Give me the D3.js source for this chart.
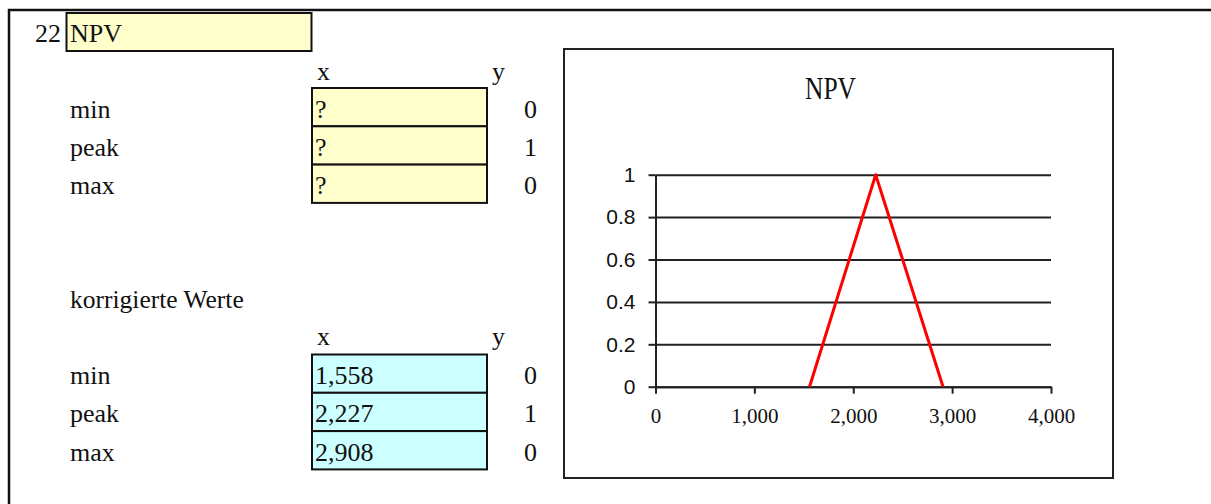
<!DOCTYPE html>
<html>
<head>
<meta charset="utf-8">
<script src="https://cdn.jsdelivr.net/npm/d3@7"></script>
<style>
  html, body { margin: 0; padding: 0; background: #fff; }
  svg { display: block; }
</style>
</head>
<body>
<div id="chart"></div>
<script>
// ---------- data ----------
const sectionNumber = "22";
const sectionName = "NPV";
const rowLabels = ["min", "peak", "max"];
const inputX = ["?", "?", "?"];
const correctedX = [1558, 2227, 2908];
const yValues = [0, 1, 0];
const correctedTitle = "korrigierte Werte";
const chartTitle = "NPV";
const xTicks = [0, 1000, 2000, 3000, 4000];
const yTicks = [0, 0.2, 0.4, 0.6, 0.8, 1];

// ---------- setup ----------
const W = 1211, H = 504;
const serif = "'Liberation Serif', 'Times New Roman', serif";
const sans = "'Liberation Sans', Arial, sans-serif";
const ink = "#111";

const svg = d3.select("#chart").append("svg")
  .attr("width", W).attr("height", H);

// outer frame (top + left)
svg.append("path")
  .attr("d", `M9,504 L9,10 L1211,10`)
  .attr("fill", "none").attr("stroke", ink).attr("stroke-width", 2.5);

// section header
svg.append("text").text(sectionNumber)
  .attr("x", 61).attr("y", 41.5).attr("text-anchor", "end")
  .attr("font-family", serif).attr("font-size", 26).attr("fill", ink);
svg.append("rect")
  .attr("x", 66.5).attr("y", 13).attr("width", 245).attr("height", 38)
  .attr("fill", "#FFFFCC").attr("stroke", ink).attr("stroke-width", 2);
svg.append("text").text(sectionName)
  .attr("x", 70).attr("y", 41.5)
  .attr("font-family", serif).attr("font-size", 26).attr("fill", ink);

// table helper
function drawTable(top, headerBaseline, values, fill, fmt) {
  const rowH = 38.3;
  const g = svg.append("g");
  g.append("text").text("x").attr("x", 317).attr("y", headerBaseline)
    .attr("font-family", serif).attr("font-size", 26).attr("fill", ink);
  g.append("text").text("y").attr("x", 492).attr("y", headerBaseline)
    .attr("font-family", serif).attr("font-size", 26).attr("fill", ink);
  rowLabels.forEach((lab, i) => {
    const y0 = top + i * rowH;
    const base = y0 + 29.5;
    g.append("text").text(lab).attr("x", 70).attr("y", base)
      .attr("font-family", serif).attr("font-size", 26).attr("fill", ink);
    g.append("rect").attr("x", 312).attr("y", y0).attr("width", 175).attr("height", rowH)
      .attr("fill", fill).attr("stroke", ink).attr("stroke-width", 2);
    g.append("text").text(fmt(values[i])).attr("x", 315).attr("y", base)
      .attr("font-family", serif).attr("font-size", 26).attr("fill", ink);
    g.append("text").text(yValues[i]).attr("x", 537).attr("y", base)
      .attr("text-anchor", "end")
      .attr("font-family", serif).attr("font-size", 26).attr("fill", ink);
  });
}

drawTable(88, 80, inputX, "#FFFFCC", v => v);

svg.append("text").text(correctedTitle)
  .attr("x", 70).attr("y", 308)
  .attr("font-family", serif).attr("font-size", 25.5).attr("fill", ink);

drawTable(354.5, 345, correctedX, "#CCFFFF", d3.format(","));

// ---------- chart ----------
svg.append("rect")
  .attr("x", 564).attr("y", 49).attr("width", 549).attr("height", 429)
  .attr("fill", "#fff").attr("stroke", "#222").attr("stroke-width", 2);

svg.append("text").text(chartTitle)
  .attr("transform", "translate(830.5,99) scale(1,1.2)")
  .attr("text-anchor", "middle")
  .attr("font-family", serif).attr("font-size", 25.5).attr("fill", ink);

const x = d3.scaleLinear().domain([0, 4000]).range([655.5, 1051]);
const y = d3.scaleLinear().domain([0, 1]).range([386.7, 174.7]);

// gridlines
svg.append("g")
  .attr("transform", `translate(${x(0)},0)`)
  .call(d3.axisRight(y).tickValues(yTicks).tickSize(x(4000) - x(0)).tickFormat(""))
  .call(g => g.select(".domain").remove())
  .call(g => g.selectAll("line").attr("stroke", "#222").attr("stroke-width", 2));

// y axis
svg.append("g")
  .attr("transform", `translate(${x(0)},0)`)
  .call(d3.axisLeft(y).tickValues(yTicks).tickSize(7).tickSizeOuter(0).tickPadding(13)
    .tickFormat(d => d3.format("~g")(d)))
  .call(g => g.select(".domain").attr("stroke", "#222").attr("stroke-width", 2))
  .call(g => g.selectAll("line").attr("stroke", "#222").attr("stroke-width", 2))
  .call(g => g.selectAll("text").attr("font-family", sans).attr("font-size", 21).attr("fill", ink));

// x axis
svg.append("g")
  .attr("transform", `translate(0,${y(0)})`)
  .call(d3.axisBottom(x).tickValues(xTicks).tickSize(7).tickSizeOuter(0).tickPadding(14)
    .tickFormat(d3.format(",")))
  .call(g => g.select(".domain").attr("stroke", "#222").attr("stroke-width", 2))
  .call(g => g.selectAll("line").attr("stroke", "#222").attr("stroke-width", 2))
  .call(g => g.selectAll("text").attr("font-family", serif).attr("font-size", 21).attr("fill", ink));

// series line
const pts = correctedX.map((v, i) => [v, yValues[i]]);
svg.append("path")
  .datum(pts)
  .attr("d", d3.line().x(d => x(d[0])).y(d => y(d[1])))
  .attr("fill", "none").attr("stroke", "#FF0000").attr("stroke-width", 3)
  .attr("stroke-linejoin", "round");
</script>
</body>
</html>
